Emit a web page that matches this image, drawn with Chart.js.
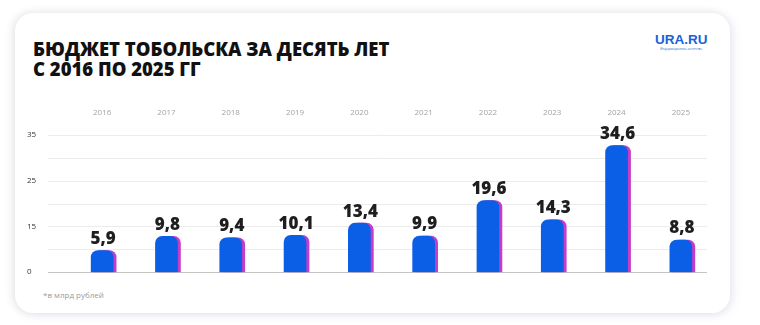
<!DOCTYPE html>
<html lang="ru">
<head>
<meta charset="utf-8">
<script src="https://cdn.jsdelivr.net/npm/chart.js@4.4.1/dist/chart.umd.min.js"></script>
<style>
    html, body { margin: 0; padding: 0; background: #fff; }
    body { width: 760px; height: 325px; position: relative; overflow: hidden; font-family: "Open Sans", Inter, sans-serif; }
    .card {
        position: absolute; left: 15px; top: 13px; width: 715px; height: 300px;
        background: #fff; border-radius: 18px;
        box-shadow: -2px 0 10px rgba(0,0,0,0.10), 4px 2px 10px rgba(120,120,200,0.10);
    }
    .title {
        position: absolute; left: 33px; top: 39px; margin: 0;
        font-size: 18.5px; line-height: 19.5px; font-weight: 800; color: #111;
    }
    .logo { position: absolute; left: 655px; top: 33px; color: #1763d6; text-align: center; }
    .logo b { display: block; font-family: "Liberation Sans", Arial, sans-serif; font-size: 13.5px; font-weight: 700; line-height: 14px; }
    .logo span { display: block; font-size: 3px; line-height: 4px; }
    .note { position: absolute; left: 43px; top: 289px; font-size: 8px; color: #9a9a9a; }
    #wrap { position: absolute; left: 20px; top: 100px; width: 705px; height: 180px; }
</style>
</head>
<body>
<div class="card"></div>
<h1 class="title">БЮДЖЕТ ТОБОЛЬСКА ЗА ДЕСЯТЬ ЛЕТ<br>С 2016 ПО 2025 ГГ</h1>
<div class="logo"><b>URA.RU</b><span>Информационное агентство</span></div>
<div class="note">*в млрд рублей</div>
<div id="wrap"><canvas id="BarChart"></canvas></div>

<script>
var years = ["2016", "2017", "2018", "2019", "2020", "2021", "2022", "2023", "2024", "2025"];
var budget = [5.9, 9.8, 9.4, 10.1, 13.4, 9.9, 19.6, 14.3, 34.6, 8.8];
var yTickLabels = ["0", "", "15", "", "25", "", "35"];

// grid lines run a bit wider than the plot area
var gridLines = {
    id: "gridLines",
    beforeDatasetsDraw: function(chart) {
        var ctx = chart.ctx;
        var y = chart.scales.y;
        var area = chart.chartArea;
        ctx.save();
        y.ticks.forEach(function(t, i) {
            var py = Math.round(y.getPixelForValue(t.value)) + 0.5;
            ctx.strokeStyle = i == 0 ? "#c4c4c4" : "#ececec";
            ctx.lineWidth = 1;
            ctx.beginPath();
            ctx.moveTo(area.left - 22, py);
            ctx.lineTo(area.right - 6, py);
            ctx.stroke();
        });
        ctx.restore();
    }
};

// pink edge on the right side of each bar
var barEdge = {
    id: "barEdge",
    beforeDatasetDraw: function(chart) {
        var ctx = chart.ctx;
        ctx.save();
        ctx.shadowColor = "#c53cc8";
        ctx.shadowOffsetX = 3;
        ctx.shadowOffsetY = 0;
        ctx.shadowBlur = 0;
    },
    afterDatasetDraw: function(chart) {
        chart.ctx.restore();
    }
};

// values above the bars
var valueLabels = {
    id: "valueLabels",
    afterDatasetsDraw: function(chart) {
        var ctx = chart.ctx;
        var meta = chart.getDatasetMeta(0);
        ctx.save();
        ctx.font = "800 17px 'Open Sans', sans-serif";
        ctx.fillStyle = "#1e1e1e";
        ctx.textAlign = "center";
        ctx.textBaseline = "bottom";
        meta.data.forEach(function(bar, i) {
            var txt = String(budget[i]).replace(".", ",");
            ctx.fillText(txt, bar.x + 1, bar.y - 3);
        });
        ctx.restore();
    }
};

var ctx = document.getElementById("BarChart").getContext("2d");
var chart = new Chart(ctx, {
    type: "bar",
    data: {
        labels: years,
        datasets: [{
            data: budget,
            backgroundColor: "#0b5fe6",
            borderRadius: 7,
            barThickness: 22
        }]
    },
    options: {
        responsive: true,
        maintainAspectRatio: false,
        animation: false,
        layout: { padding: { left: 7, right: 12, top: 0, bottom: 5 } },
        plugins: {
            legend: { display: false },
            tooltip: { enabled: false }
        },
        scales: {
            x: {
                position: "top",
                grid: { display: false, drawTicks: false },
                border: { display: false },
                ticks: {
                    color: "#a3a3a3",
                    padding: 17,
                    font: { size: 8, family: "'Open Sans', sans-serif" }
                },
                afterFit: function(scale) { scale.height = 35; }
            },
            y: {
                min: 0,
                max: 37.5,
                grid: { display: false, drawTicks: false },
                border: { display: false },
                ticks: {
                    stepSize: 6.25,
                    crossAlign: "far",
                    color: "#333",
                    font: { size: 8, family: "'Open Sans', sans-serif" },
                    callback: function(value, index) { return yTickLabels[index]; }
                },
                afterFit: function(scale) { scale.width = 43; }
            }
        }
    },
    plugins: [gridLines, barEdge, valueLabels]
});
</script>
</body>
</html>
